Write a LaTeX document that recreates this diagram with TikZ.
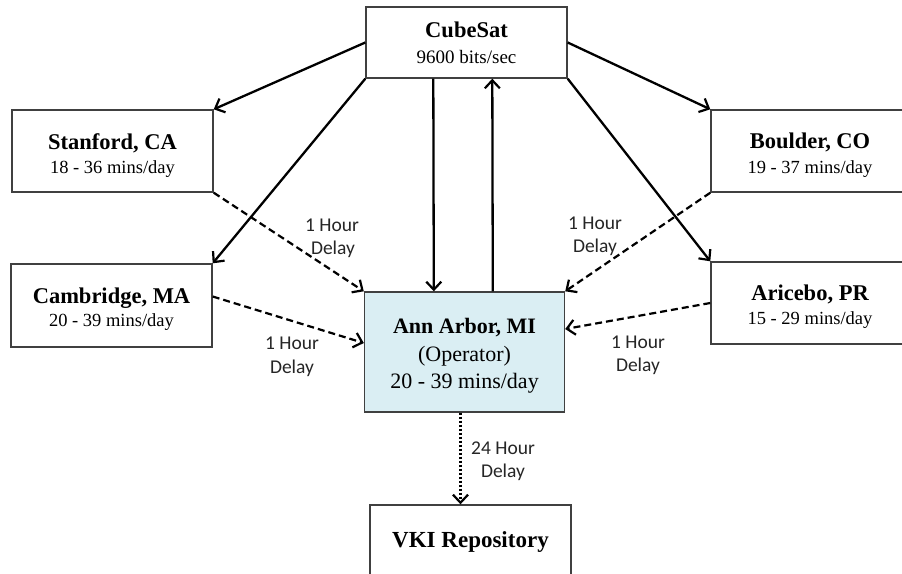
\documentclass[tikz,border=0pt]{standalone}
\usepackage{fontspec}
\setmainfont{Liberation Serif}
\newfontfamily\calib{Carlito}
\usetikzlibrary{arrows.meta}
\definecolor{annfill}{HTML}{DAEEF3}
\definecolor{boxline}{HTML}{404040}
\begin{document}
\begin{tikzpicture}[x=1pt,y=-1pt,
  box/.style={draw=boxline, line width=1.4pt, fill=white, inner sep=0pt, minimum width=201pt, minimum height=82pt},
  ttl/.style={font=\fontsize{22.5}{24}\selectfont\bfseries, inner sep=0pt, anchor=base},
  sub/.style={font=\fontsize{18.5}{20}\selectfont, inner sep=0pt, anchor=base},
  big/.style={font=\fontsize{22}{24}\selectfont, inner sep=0pt, anchor=base},
  lbl/.style={font=\calib\fontsize{19.5}{22}\selectfont, inner sep=0pt, anchor=base, text=black!85},
  tip/.style={-{Straight Barb[length=8pt,width=15pt,line width=2.2pt]}},
  solidarr/.style={tip, line width=2.3pt, black},
  dasharr/.style={tip, line width=2.2pt, black, dash pattern=on 7pt off 4pt},
  dotarr/.style={tip, line width=2.2pt, black, dash pattern=on 2pt off 2pt}]
\useasboundingbox (0,0) rectangle (902,573);
\fill[white] (0,0) rectangle (902,573);

% boxes
\node[box, minimum height=71pt] (cube) at (466.5,42.5) {};
\node[box] (stan) at (112.5,151) {};
\node[box, minimum height=83pt] (camb) at (111.5,305.5) {};
\node[box] (bould) at (811.5,151) {};
\node[box] (aric) at (811.5,303) {};
\node[box, fill=annfill, minimum width=200pt, minimum height=120pt] (ann) at (464.5,352) {};
\node[box] (vki) at (470.5,546) {};

% box texts
\node[ttl] (cubeT) at (466.5,37) {CubeSat};
\node[sub, font=\fontsize{19}{20}\selectfont] (cubeS) at (466.5,63) {9600 bits/sec};
\node[ttl] (stanT) at (112.5,149) {Stanford, CA};
\node[sub] (stanS) at (112.5,173) {18 - 36 mins/day};
\node[ttl] (cambT) at (111.5,303) {Cambridge, MA};
\node[sub] (cambS) at (111.5,326) {20 - 39 mins/day};
\node[ttl] (bouldT) at (810,148) {Boulder, CO};
\node[sub] (bouldS) at (810,173) {19 - 37 mins/day};
\node[ttl] (aricT) at (810,300) {Aricebo, PR};
\node[sub] (aricS) at (810,324) {15 - 29 mins/day};
\node[ttl, font=\fontsize{22}{24}\selectfont\bfseries] (annT) at (464.5,333) {Ann Arbor, MI};
\node[big] (annO) at (464.5,361) {(Operator)};
\node[big] (annS) at (464.5,388) {20 - 39 mins/day};
\node[ttl, font=\fontsize{23}{24}\selectfont\bfseries] (vkiT) at (470.5,547) {VKI Repository};

% solid arrows from/to CubeSat
\draw[solidarr] (cube.west) -- (stan.north east);
\draw[solidarr] (cube.south west) -- (camb.north east);
\draw[solidarr] (cube.east) -- (bould.north west);
\draw[solidarr] (cube.south east) -- (aric.north west);
\draw[solidarr] ([xshift=68pt]cube.south west) -- ([xshift=70pt]ann.north west);
\draw[solidarr] ([xshift=129pt]ann.north west) -- ([xshift=127pt]cube.south west);

% dashed arrows to Ann Arbor
\draw[dasharr] (stan.south east) -- (ann.north west);
\draw[dasharr] ([yshift=9pt]camb.east) -- ([yshift=9pt]ann.west);
\draw[dasharr] (bould.south west) -- (ann.north east);
\draw[dasharr] (aric.west) -- ([yshift=23pt]ann.east);

% dotted arrow to VKI
\draw[dotarr] ([xshift=-4pt]ann.south) -- ([xshift=-4pt]ann.south |- vki.north);

% delay labels
\node[lbl] (d1a) at (332,231) {1 Hour};
\node[lbl] (d1b) at (333,254) {Delay};
\node[lbl] (d2a) at (292,349) {1 Hour};
\node[lbl] (d2b) at (292,373) {Delay};
\node[lbl] (d3a) at (595,229) {1 Hour};
\node[lbl] (d3b) at (595,252) {Delay};
\node[lbl] (d4a) at (638,348) {1 Hour};
\node[lbl] (d4b) at (638,371) {Delay};
\node[lbl] (d5a) at (503,454) {24 Hour};
\node[lbl] (d5b) at (503,477) {Delay};
\end{tikzpicture}
\end{document}
